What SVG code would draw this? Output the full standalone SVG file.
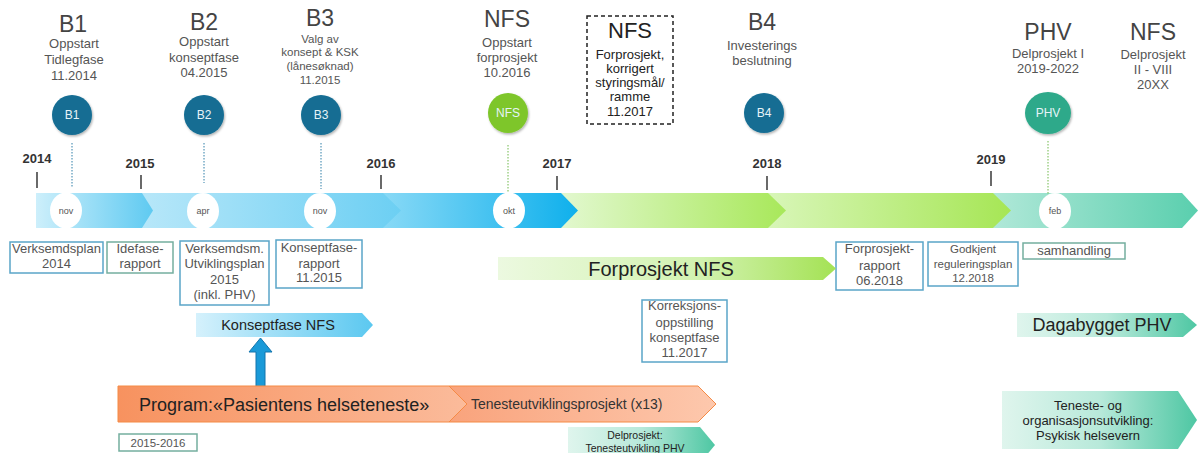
<svg xmlns="http://www.w3.org/2000/svg" width="1198" height="453" viewBox="0 0 1198 453">
<defs>
<linearGradient id="g1"><stop offset="0" stop-color="#cdeffb"/><stop offset="1" stop-color="#5fcaf1"/></linearGradient>
<linearGradient id="g2"><stop offset="0" stop-color="#b7e7f9"/><stop offset="1" stop-color="#6ccff3"/></linearGradient>
<linearGradient id="g3"><stop offset="0" stop-color="#88d9f6"/><stop offset="1" stop-color="#0fb0ec"/></linearGradient>
<linearGradient id="g4"><stop offset="0" stop-color="#e2f8cf"/><stop offset="1" stop-color="#a8e85a"/></linearGradient>
<linearGradient id="g5"><stop offset="0" stop-color="#d8f6b8"/><stop offset="1" stop-color="#a6e655"/></linearGradient>
<linearGradient id="g6"><stop offset="0" stop-color="#b0e8d8"/><stop offset="1" stop-color="#5acfae"/></linearGradient>
<linearGradient id="gKons"><stop offset="0" stop-color="#d5f1fc"/><stop offset="1" stop-color="#5bc8f0"/></linearGradient>
<linearGradient id="gFor"><stop offset="0" stop-color="#ecf9e0"/><stop offset="0.6" stop-color="#d2f2b0"/><stop offset="1" stop-color="#a4e254"/></linearGradient>
<linearGradient id="gTeal"><stop offset="0" stop-color="#dff5ed"/><stop offset="0.5" stop-color="#b8e9da"/><stop offset="1" stop-color="#4ec7a3"/></linearGradient>
<linearGradient id="gProg"><stop offset="0" stop-color="#f7925f"/><stop offset="1" stop-color="#fbbb9b"/></linearGradient>
<linearGradient id="gTen"><stop offset="0" stop-color="#f9a37c"/><stop offset="1" stop-color="#fdc8ad"/></linearGradient>
<filter id="sh" x="-30%" y="-30%" width="160%" height="160%"><feDropShadow dx="1" dy="1.5" stdDeviation="1.2" flood-color="#000" flood-opacity="0.3"/></filter>
</defs>
<style>
text{font-family:"Liberation Sans",Arial,sans-serif;}
.ttl{font-size:23px;fill:#444;text-anchor:middle;}
.sub{font-size:13px;fill:#555;text-anchor:middle;}
.sub2{font-size:11.5px;fill:#555;text-anchor:middle;}
.yr{font-size:13px;font-weight:bold;fill:#333;text-anchor:middle;}
.tick{stroke:#444;stroke-width:1.6;}
.mon{fill:#fff;}
.mt{font-size:9px;fill:#555;text-anchor:middle;}
.ct{font-size:12px;fill:#e6f4f8;text-anchor:middle;}
.box{fill:#fff;stroke:#5aa5c8;stroke-width:1.5;}
.boxg{fill:#fff;stroke:#74ae9f;stroke-width:1.5;}
.bt{font-size:13px;fill:#555;text-anchor:middle;}
.bt2{font-size:11.5px;fill:#555;text-anchor:middle;}
.lbl{fill:#222;text-anchor:middle;}
.dk{font-size:13px;fill:#222;text-anchor:middle;}
.dot{stroke-width:1;stroke-dasharray:1.5 1.5;fill:none;}
</style>
<rect width="1198" height="453" fill="#fff"/>

<g id="timeline">
<polygon points="993,193 1182,193 1198,210.5 1182,228 993,228" fill="url(#g6)"/>
<polygon points="768,193 993,193 1011,210.5 993,228 768,228" fill="url(#g5)"/>
<polygon points="561,193 768,193 786,210.5 768,228 561,228" fill="url(#g4)"/>
<polygon points="383,193 561,193 578,210.5 561,228 383,228" fill="url(#g3)"/>
<polygon points="142,193 383,193 401,210.5 383,228 142,228" fill="url(#g2)"/>
<polygon points="36,193 142,193 153,210.5 142,228 36,228" fill="url(#g1)"/>
</g>

<g id="years">
<text class="yr" x="37" y="163">2014</text><line class="tick" x1="37" y1="172" x2="37" y2="188"/>
<text class="yr" x="140" y="168">2015</text><line class="tick" x1="141" y1="175" x2="141" y2="189"/>
<text class="yr" x="381" y="168">2016</text><line class="tick" x1="381" y1="175" x2="381" y2="189"/>
<text class="yr" x="557" y="168">2017</text><line class="tick" x1="557" y1="176" x2="557" y2="190"/>
<text class="yr" x="767" y="168">2018</text><line class="tick" x1="767" y1="176" x2="767" y2="190"/>
<text class="yr" x="991" y="164">2019</text><line class="tick" x1="991" y1="171" x2="991" y2="186"/>
</g>

<g id="connectors">
<line class="dot" stroke="#2f7fa8" x1="72" y1="143" x2="72" y2="188"/>
<line class="dot" stroke="#2f7fa8" x1="204" y1="143" x2="204" y2="183"/>
<line class="dot" stroke="#2f7fa8" x1="321" y1="143" x2="321" y2="189"/>
<line class="dot" stroke="#6fb84a" x1="508" y1="145" x2="508" y2="196"/>
<line class="dot" stroke="#6fb84a" x1="1048" y1="141" x2="1048" y2="196"/>
<polygon points="256,387 256,352 249,352 260.5,338 272,352 265,352 265,387" fill="#1a9ad8" stroke="#1375ad" stroke-width="1"/>
</g>

<g id="months">
<ellipse class="mon" cx="66" cy="210.5" rx="16" ry="18"/><text class="mt" x="66" y="213.5">nov</text>
<ellipse class="mon" cx="203" cy="211" rx="16" ry="18"/><text class="mt" x="203" y="214">apr</text>
<ellipse class="mon" cx="320" cy="211" rx="16" ry="18"/><text class="mt" x="320" y="214">nov</text>
<ellipse class="mon" cx="509" cy="210.5" rx="16" ry="18"/><text class="mt" x="509" y="213.5">okt</text>
<ellipse class="mon" cx="1055" cy="211" rx="16" ry="18"/><text class="mt" x="1055" y="214">feb</text>
</g>

<g id="B1">
<text class="ttl" x="73" y="32">B1</text>
<text class="sub" x="74" y="48">Oppstart</text>
<text class="sub" x="74" y="64">Tidlegfase</text>
<text class="sub" x="74" y="80">11.2014</text>
<circle cx="72" cy="115" r="20" fill="#146d93" filter="url(#sh)"/>
<text class="ct" x="72" y="119">B1</text>
</g>

<g id="B2">
<text class="ttl" x="204" y="30">B2</text>
<text class="sub" x="204" y="46">Oppstart</text>
<text class="sub" x="204" y="62">konseptfase</text>
<text class="sub" x="204" y="77">04.2015</text>
<circle cx="204" cy="115" r="20" fill="#146d93" filter="url(#sh)"/>
<text class="ct" x="204" y="119">B2</text>
</g>

<g id="B3">
<text class="ttl" x="320" y="26">B3</text>
<text class="sub2" x="320" y="43">Valg av</text>
<text class="sub2" x="320" y="56">konsept &amp; KSK</text>
<text class="sub2" x="320" y="70">(lånesøknad)</text>
<text class="sub2" x="320" y="84">11.2015</text>
<circle cx="321" cy="115" r="20" fill="#146d93" filter="url(#sh)"/>
<text class="ct" x="321" y="119">B3</text>
</g>

<g id="NFS1">
<text class="ttl" x="507" y="27">NFS</text>
<text class="sub" x="507" y="47">Oppstart</text>
<text class="sub" x="507" y="62">forprosjekt</text>
<text class="sub" x="507" y="77">10.2016</text>
<circle cx="508" cy="113" r="20" fill="#7ec62c" filter="url(#sh)"/>
<text class="ct" x="508" y="117">NFS</text>
</g>

<g id="NFS2">
<rect x="587" y="16" width="86" height="108" fill="#fff" stroke="#222" stroke-width="1.5" stroke-dasharray="4 3"/>
<text x="630" y="38" style="font-size:22px;fill:#222;text-anchor:middle">NFS</text>
<text class="dk" x="630" y="59">Forprosjekt,</text>
<text class="dk" x="630" y="73">korrigert</text>
<text class="dk" x="630" y="87">styringsmål/</text>
<text class="dk" x="630" y="101">ramme</text>
<text class="dk" x="630" y="116">11.2017</text>
</g>

<g id="B4">
<text class="ttl" x="762" y="30">B4</text>
<text class="sub" x="762" y="50">Investerings</text>
<text class="sub" x="762" y="65">beslutning</text>
<circle cx="764" cy="113" r="20" fill="#146d93" filter="url(#sh)"/>
<text class="ct" x="764" y="117">B4</text>
</g>

<g id="PHV">
<text class="ttl" x="1048" y="40">PHV</text>
<text class="sub" x="1048" y="58">Delprosjekt I</text>
<text class="sub" x="1048" y="73">2019-2022</text>
<ellipse cx="1048" cy="113" rx="23" ry="21" fill="#2ea98a" filter="url(#sh)"/>
<text class="ct" x="1048" y="117">PHV</text>
</g>

<g id="NFS3">
<text class="ttl" x="1153" y="40">NFS</text>
<text class="sub" x="1153" y="59">Delprosjekt</text>
<text class="sub" x="1153" y="74">II - VIII</text>
<text class="sub" x="1153" y="89">20XX</text>
</g>

<g id="box-verksemdsplan">
<rect class="box" x="10" y="242" width="93" height="31"/>
<text class="bt" x="56.5" y="253">Verksemdsplan</text>
<text class="bt" x="56.5" y="268">2014</text>
</g>
<g id="box-idefase">
<rect class="boxg" x="107" y="242" width="66" height="31"/>
<text class="bt" x="140" y="253">Idefase-</text>
<text class="bt" x="140" y="268">rapport</text>
</g>
<g id="box-utviklingsplan">
<rect class="box" x="180" y="241" width="89" height="64"/>
<text class="bt" x="224.5" y="253">Verksemdsm.</text>
<text class="bt" x="224.5" y="268">Utviklingsplan</text>
<text class="bt" x="224.5" y="284">2015</text>
<text class="bt" x="224.5" y="299">(inkl. PHV)</text>
</g>
<g id="box-konseptfaserapport">
<rect class="box" x="276" y="240" width="86" height="48"/>
<text class="bt" x="319" y="252">Konseptfase-</text>
<text class="bt" x="319" y="268">rapport</text>
<text class="bt" x="319" y="282">11.2015</text>
</g>
<g id="box-korreksjon">
<rect class="box" x="642" y="300" width="85" height="62"/>
<text class="bt" x="684.5" y="310">Korreksjons-</text>
<text class="bt" x="684.5" y="327">oppstilling</text>
<text class="bt" x="684.5" y="342">konseptfase</text>
<text class="bt" x="684.5" y="357">11.2017</text>
</g>
<g id="box-forprosjektrapport">
<rect class="box" x="836" y="242" width="87" height="48"/>
<text class="bt" x="879.5" y="253">Forprosjekt-</text>
<text class="bt" x="879.5" y="270">rapport</text>
<text class="bt" x="879.5" y="285">06.2018</text>
</g>
<g id="box-regulering">
<rect class="box" x="928" y="242" width="90" height="44"/>
<text class="bt2" x="973" y="253">Godkjent</text>
<text class="bt2" x="973" y="268">reguleringsplan</text>
<text class="bt2" x="973" y="282">12.2018</text>
</g>
<g id="box-samhandling">
<rect class="boxg" x="1023" y="243" width="102" height="16"/>
<text class="bt" x="1074" y="255">samhandling</text>
</g>
<g id="box-2015-2016">
<rect class="boxg" x="119" y="434" width="78" height="17"/>
<text class="bt2" x="158" y="447">2015-2016</text>
</g>

<g id="konseptfase-nfs">
<polygon points="196,313 362,313 373,325 362,337 196,337" fill="url(#gKons)"/>
<text class="lbl" x="278" y="330" style="font-size:14.5px">Konseptfase NFS</text>
</g>

<g id="forprosjekt-nfs">
<polygon points="498,257 823,257 836,268.5 823,280 498,280" fill="url(#gFor)"/>
<text class="lbl" x="661" y="276" style="font-size:20px">Forprosjekt NFS</text>
</g>

<g id="program">
<polygon points="449,386 698,386 716,404 698,422 449,422" fill="url(#gTen)" stroke="#f58a45" stroke-width="1"/>
<polygon points="118,386 449,386 467,404 449,422 118,422" fill="url(#gProg)" stroke="#f58a45" stroke-width="1"/>
<text x="139" y="411" style="font-size:18px;fill:#222">Program:«Pasientens helseteneste»</text>
<text x="471" y="409" style="font-size:14px;fill:#333">Tenesteutviklingsprosjekt (x13)</text>
</g>

<g id="delprosjekt-phv">
<polygon points="568,427 700,427 715,445 700,463 568,463" fill="url(#gTeal)"/>
<text x="635" y="439" style="font-size:10.5px;fill:#222;text-anchor:middle">Delprosjekt:</text>
<text x="635" y="452" style="font-size:10.5px;fill:#222;text-anchor:middle">Tenesteutvikling PHV</text>
</g>

<g id="dagabygget">
<polygon points="1017,313 1183,313 1197,325 1183,337 1017,337" fill="url(#gTeal)"/>
<text class="lbl" x="1102" y="331" style="font-size:18px">Dagabygget PHV</text>
</g>

<g id="teneste-org">
<polygon points="1002,391 1178,391 1197,420 1178,449 1002,449" fill="url(#gTeal)"/>
<text class="lbl" x="1088" y="410" style="font-size:13px">Teneste- og</text>
<text class="lbl" x="1088" y="425" style="font-size:13px">organisasjonsutvikling:</text>
<text class="lbl" x="1088" y="440" style="font-size:13px">Psykisk helsevern</text>
</g>
</svg>
